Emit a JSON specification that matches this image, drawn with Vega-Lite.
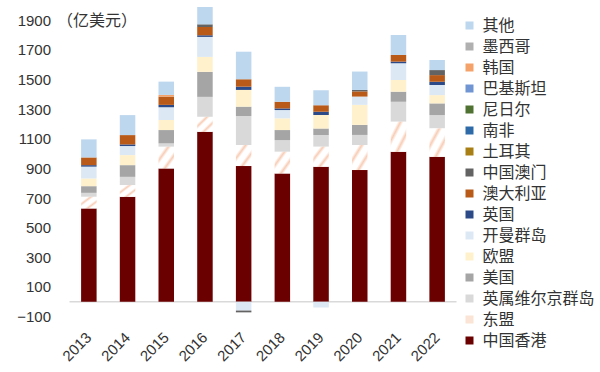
{
  "$schema": "https://vega.github.io/schema/vega-lite/v6.json",
  "width": 387,
  "height": 311,
  "autosize": {"type": "none"},
  "padding": {"left": 69.5, "top": 5.5, "right": 143.5, "bottom": 55.5},
  "config": {"view": {"stroke": null}, "font": "Liberation Sans", "axis": {"labelOverlap": false}},
  "data": {"values": [
    {"year": "2013", "region": "中国香港", "value": 630},
    {"year": "2013", "region": "东盟", "value": 78},
    {"year": "2013", "region": "英属维尔京群岛", "value": 27},
    {"year": "2013", "region": "美国", "value": 45},
    {"year": "2013", "region": "欧盟", "value": 52},
    {"year": "2013", "region": "开曼群岛", "value": 80},
    {"year": "2013", "region": "英国", "value": 10},
    {"year": "2013", "region": "澳大利亚", "value": 52},
    {"year": "2013", "region": "其他", "value": 122},
    {"year": "2014", "region": "中国香港", "value": 708},
    {"year": "2014", "region": "东盟", "value": 79},
    {"year": "2014", "region": "英属维尔京群岛", "value": 56},
    {"year": "2014", "region": "美国", "value": 79},
    {"year": "2014", "region": "欧盟", "value": 68},
    {"year": "2014", "region": "开曼群岛", "value": 61},
    {"year": "2014", "region": "英国", "value": 11},
    {"year": "2014", "region": "澳大利亚", "value": 63},
    {"year": "2014", "region": "其他", "value": 135},
    {"year": "2015", "region": "中国香港", "value": 900},
    {"year": "2015", "region": "东盟", "value": 146},
    {"year": "2015", "region": "英属维尔京群岛", "value": 23},
    {"year": "2015", "region": "美国", "value": 90},
    {"year": "2015", "region": "欧盟", "value": 68},
    {"year": "2015", "region": "开曼群岛", "value": 86},
    {"year": "2015", "region": "英国", "value": 16},
    {"year": "2015", "region": "澳大利亚", "value": 56},
    {"year": "2015", "region": "韩国", "value": 11},
    {"year": "2015", "region": "其他", "value": 90},
    {"year": "2016", "region": "中国香港", "value": 1147},
    {"year": "2016", "region": "东盟", "value": 101},
    {"year": "2016", "region": "英属维尔京群岛", "value": 135},
    {"year": "2016", "region": "美国", "value": 169},
    {"year": "2016", "region": "欧盟", "value": 101},
    {"year": "2016", "region": "开曼群岛", "value": 135},
    {"year": "2016", "region": "英国", "value": 11},
    {"year": "2016", "region": "澳大利亚", "value": 56},
    {"year": "2016", "region": "中国澳门", "value": 18},
    {"year": "2016", "region": "其他", "value": 117},
    {"year": "2017", "region": "中国香港", "value": 916},
    {"year": "2017", "region": "东盟", "value": 142},
    {"year": "2017", "region": "英属维尔京群岛", "value": 196},
    {"year": "2017", "region": "美国", "value": 63},
    {"year": "2017", "region": "欧盟", "value": 113},
    {"year": "2017", "region": "开曼群岛", "value": -60},
    {"year": "2017", "region": "英国", "value": 22},
    {"year": "2017", "region": "澳大利亚", "value": 50},
    {"year": "2017", "region": "中国澳门", "value": -12},
    {"year": "2017", "region": "其他", "value": 186},
    {"year": "2018", "region": "中国香港", "value": 866},
    {"year": "2018", "region": "东盟", "value": 146},
    {"year": "2018", "region": "英属维尔京群岛", "value": 79},
    {"year": "2018", "region": "美国", "value": 68},
    {"year": "2018", "region": "欧盟", "value": 79},
    {"year": "2018", "region": "开曼群岛", "value": 56},
    {"year": "2018", "region": "英国", "value": 11},
    {"year": "2018", "region": "澳大利亚", "value": 45},
    {"year": "2018", "region": "其他", "value": 101},
    {"year": "2019", "region": "中国香港", "value": 911},
    {"year": "2019", "region": "东盟", "value": 135},
    {"year": "2019", "region": "英属维尔京群岛", "value": 79},
    {"year": "2019", "region": "美国", "value": 45},
    {"year": "2019", "region": "欧盟", "value": 90},
    {"year": "2019", "region": "开曼群岛", "value": -40},
    {"year": "2019", "region": "英国", "value": 22},
    {"year": "2019", "region": "澳大利亚", "value": 45},
    {"year": "2019", "region": "其他", "value": 101},
    {"year": "2020", "region": "中国香港", "value": 889},
    {"year": "2020", "region": "东盟", "value": 169},
    {"year": "2020", "region": "英属维尔京群岛", "value": 68},
    {"year": "2020", "region": "美国", "value": 68},
    {"year": "2020", "region": "欧盟", "value": 135},
    {"year": "2020", "region": "开曼群岛", "value": 56},
    {"year": "2020", "region": "澳大利亚", "value": 35},
    {"year": "2020", "region": "中国澳门", "value": 10},
    {"year": "2020", "region": "其他", "value": 124},
    {"year": "2021", "region": "中国香港", "value": 1012},
    {"year": "2021", "region": "东盟", "value": 203},
    {"year": "2021", "region": "英属维尔京群岛", "value": 135},
    {"year": "2021", "region": "美国", "value": 68},
    {"year": "2021", "region": "欧盟", "value": 79},
    {"year": "2021", "region": "开曼群岛", "value": 113},
    {"year": "2021", "region": "英国", "value": 11},
    {"year": "2021", "region": "澳大利亚", "value": 45},
    {"year": "2021", "region": "其他", "value": 135},
    {"year": "2022", "region": "中国香港", "value": 978},
    {"year": "2022", "region": "东盟", "value": 192},
    {"year": "2022", "region": "英属维尔京群岛", "value": 90},
    {"year": "2022", "region": "美国", "value": 79},
    {"year": "2022", "region": "欧盟", "value": 56},
    {"year": "2022", "region": "开曼群岛", "value": 68},
    {"year": "2022", "region": "英国", "value": 22},
    {"year": "2022", "region": "澳大利亚", "value": 45},
    {"year": "2022", "region": "中国澳门", "value": 34},
    {"year": "2022", "region": "其他", "value": 68}
  ]},
  "layer": [
    {
      "data": {"values": [{}]},
      "mark": {"type": "rule", "color": "#d9d9d9", "strokeWidth": 1.5},
      "encoding": {"y": {"datum": 0, "type": "quantitative"}}
    },
    {
      "transform": [
        {"calculate": "indexof(['中国香港','东盟','英属维尔京群岛','美国','欧盟','开曼群岛','英国','澳大利亚','中国澳门','土耳其','南非','尼日尔','巴基斯坦','韩国','墨西哥','其他'], datum.region)", "as": "ord"},
        {"stack": "value", "groupby": ["year"], "sort": [{"field": "ord", "order": "ascending"}], "as": ["v0", "v1"]},
        {"filter": "datum.region !== '东盟'"}
      ],
      "mark": {"type": "bar", "size": 15.5},
      "encoding": {
        "x": {
          "field": "year", "type": "nominal",
          "scale": {"paddingInner": 0.6, "paddingOuter": 0.3},
          "axis": {"title": null, "labelAngle": -45, "labelAlign": "right", "labelBaseline": "middle", "labelFontSize": 15, "labelColor": "#333333", "labelPadding": 18, "ticks": false, "domain": false}
        },
        "y": {
          "field": "v1", "type": "quantitative",
          "scale": {"domain": [-100, 2000], "nice": false, "zero": false},
          "axis": {"title": "（亿美元）", "titleAngle": 0, "titleAlign": "left", "titleBaseline": "middle", "titleX": -13, "titleY": 14.5, "titleFont": "Noto Sans CJK SC", "titleFontSize": 16, "titleFontWeight": "normal", "titleColor": "#333333",
            "values": [-100, 100, 300, 500, 700, 900, 1100, 1300, 1500, 1700, 1900], "tickCount": 30, "format": "d", "labelOverlap": false,
            "labelFontSize": 15, "labelColor": "#333333", "labelPadding": 19, "ticks": false, "domain": false, "grid": false}
        },
        "y2": {"field": "v0"},
        "color": {
          "field": "region", "type": "nominal",
          "scale": {
            "domain": ["其他", "墨西哥", "韩国", "巴基斯坦", "尼日尔", "南非", "土耳其", "中国澳门", "澳大利亚", "英国", "开曼群岛", "欧盟", "美国", "英属维尔京群岛", "东盟", "中国香港"],
            "range": ["#bdd7ee", "#b0b0b0", "#f4a26a", "#7095d2", "#4f7233", "#2e6aa8", "#a87f14", "#636363", "#b95a18", "#2b4a87", "#dce8f4", "#fff1cc", "#a5a5a5", "#d9d9d9", "#fbe4d5", "#6b0000"]
          },
          "legend": {"orient": "none", "legendX": 392, "legendY": 12, "title": null, "symbolType": "square", "symbolSize": 64, "symbolStrokeWidth": 0, "labelFontSize": 16, "labelFont": "Noto Sans CJK SC", "labelColor": "#333333", "rowPadding": 5, "labelOffset": 5}
        }
      }
    },
    {
      "transform": [
        {"calculate": "indexof(['中国香港','东盟','英属维尔京群岛','美国','欧盟','开曼群岛','英国','澳大利亚','中国澳门','土耳其','南非','尼日尔','巴基斯坦','韩国','墨西哥','其他'], datum.region)", "as": "ord"},
        {"stack": "value", "groupby": ["year"], "sort": [{"field": "ord", "order": "ascending"}], "as": ["v0", "v1"]},
        {"filter": "datum.region === '东盟'"}
      ],
      "mark": {"type": "bar", "size": 15.5, "color": {"gradient": "linear", "x1": 0, "y1": 0, "x2": 1, "y2": 1, "stops": [
        {"offset": 0, "color": "#ffffff"}, {"offset": 0.22, "color": "#ffffff"}, {"offset": 0.32, "color": "#f8cdb6"}, {"offset": 0.42, "color": "#ffffff"},
        {"offset": 0.6, "color": "#ffffff"}, {"offset": 0.7, "color": "#f8cdb6"}, {"offset": 0.8, "color": "#ffffff"}, {"offset": 1, "color": "#ffffff"}]}},
      "encoding": {
        "x": {"field": "year", "type": "nominal"},
        "y": {"field": "v1", "type": "quantitative"},
        "y2": {"field": "v0"}
      }
    }
  ]
}
